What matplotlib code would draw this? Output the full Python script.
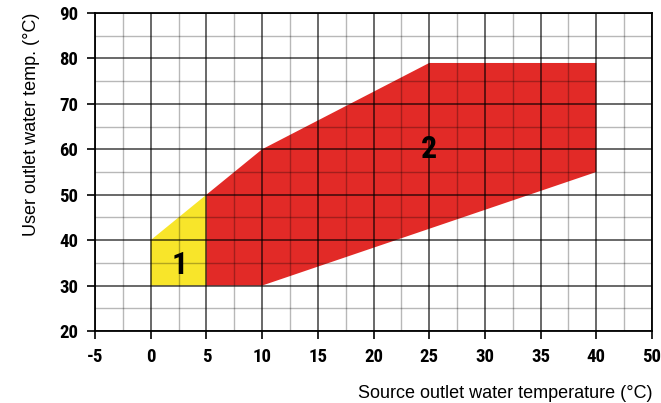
import matplotlib.pyplot as plt
from matplotlib.ticker import MultipleLocator

# operating envelopes: (source outlet temp, user outlet temp)
zone1_x = [0, 5, 5, 0]
zone1_y = [30, 30, 50, 40]
zone2_x = [5, 10, 25, 40, 40, 10, 5]
zone2_y = [50, 60, 79, 79, 55, 30, 30]
zone_labels = ['1', '2']
label_x = [2.6, 25]
label_y = [34.5, 60]

x_ticks = [-5, 0, 5, 10, 15, 20, 25, 30, 35, 40, 45]
x_ticklabels = ['-5', '0', '5', '10', '15', '20', '25', '30', '35', '40', '50']
y_ticks = [20, 30, 40, 50, 60, 70, 80, 90]

plt.rcParams['font.family'] = ['Liberation Sans', 'DejaVu Sans']
narrow = ['Roboto Condensed', 'DejaVu Sans']

fig = plt.figure(figsize=(6.61, 4.03), dpi=100)
ax = fig.add_axes([95 / 661, 72 / 403, 557 / 661, 318 / 403])

ax.fill(zone1_x, zone1_y, color='#F8E52A', lw=0, zorder=1)
ax.fill(zone2_x, zone2_y, color='#E22A27', lw=0, zorder=1)
for t, x, y in zip(zone_labels, label_x, label_y):
    ax.text(x, y, t, fontsize=23, fontweight='bold', family=narrow,
            ha='center', va='center', zorder=4)

ax.set_xlim(-5, 45)
ax.set_ylim(20, 90)
ax.set_xticks(x_ticks)
ax.set_xticklabels(x_ticklabels)
ax.set_yticks(y_ticks)
ax.xaxis.set_minor_locator(MultipleLocator(2.5))
ax.yaxis.set_minor_locator(MultipleLocator(5))
# grid over the zones, semi-transparent like the original
ax.grid(which='major', color='black', alpha=0.75, lw=1.1, zorder=2)
ax.grid(which='minor', color='black', alpha=0.28, lw=1.0, zorder=2)
ax.set_axisbelow(False)
ax.tick_params(which='major', length=6, width=1.2, color='black', labelsize=13.5, pad=6)
ax.tick_params(which='minor', length=0)
for lbl in ax.get_xticklabels() + ax.get_yticklabels():
    lbl.set_family(narrow)
    lbl.set_fontweight('bold')
for s in ax.spines.values():
    s.set_linewidth(1.3)
    s.set_color('black')

ax.set_xlabel('Source outlet water temperature (°C)', fontsize=13, labelpad=14, loc='right')
ax.set_ylabel('User outlet water temp. (°C)', fontsize=13, labelpad=14, loc='top')

fig.savefig('out.png', dpi=100)
